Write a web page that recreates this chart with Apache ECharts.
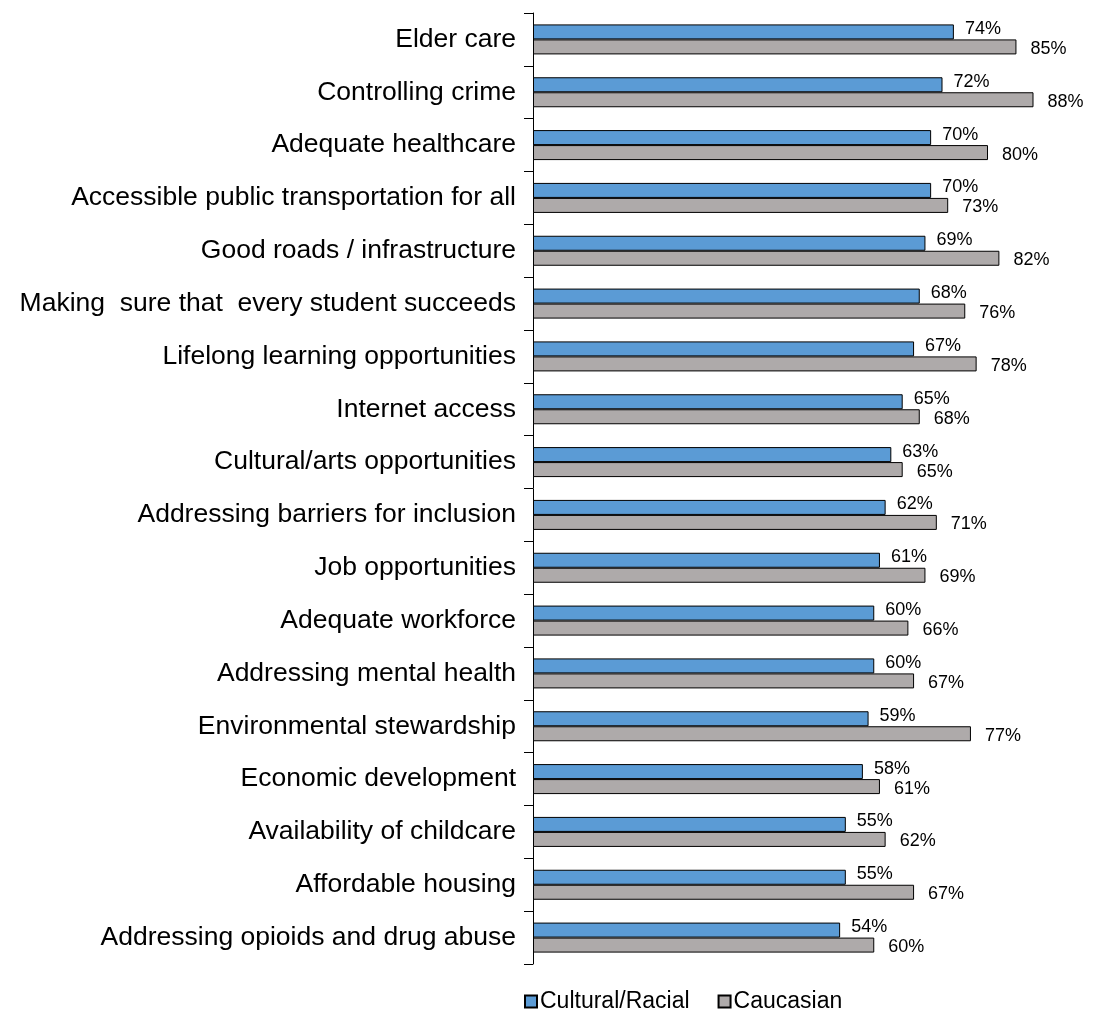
<!DOCTYPE html>
<html>
<head>
<meta charset="utf-8">
<script src="https://cdn.jsdelivr.net/npm/echarts@6/dist/echarts.min.js"></script>
<style>
  html, body { margin: 0; padding: 0; background: #fff; }
  #chart { width: 1095px; height: 1016px; }
</style>
</head>
<body>
<div id="chart"></div>
<script>
const categories = [
  'Elder care',
  'Controlling crime',
  'Adequate healthcare',
  'Accessible public transportation for all',
  'Good roads / infrastructure',
  'Making  sure that  every student succeeds',
  'Lifelong learning opportunities',
  'Internet access',
  'Cultural/arts opportunities',
  'Addressing barriers for inclusion',
  'Job opportunities',
  'Adequate workforce',
  'Addressing mental health',
  'Environmental stewardship',
  'Economic development',
  'Availability of childcare',
  'Affordable housing',
  'Addressing opioids and drug abuse'
]
const culturalRacial = [74, 72, 70, 70, 69, 68, 67, 65, 63, 62, 61, 60, 60, 59, 58, 55, 55, 54]
const caucasian = [85, 88, 80, 73, 82, 76, 78, 68, 65, 71, 69, 66, 67, 77, 61, 62, 67, 60]

let chart = echarts.init(document.getElementById('chart'))
chart.setOption({
  animation: false,
  textStyle: { fontFamily: 'Liberation Sans, Arial, sans-serif' },
  grid: { left: 533, top: 13, bottom: 52, right: 16 },
  legend: {
    data: ['Cultural/Racial', 'Caucasian'],
    top: 985,
    left: 519,
    itemWidth: 12,
    itemHeight: 12,
    itemGap: 28,
    icon: 'rect',
    textStyle: { color: '#000', fontSize: 23, padding: [0, 0, 0, -2] }
  },
  xAxis: {
    type: 'value',
    min: 0,
    max: 96,
    show: false
  },
  yAxis: {
    type: 'category',
    inverse: true,
    data: categories,
    axisLine: { lineStyle: { color: '#000', width: 1 } },
    axisTick: { show: true, length: 9, lineStyle: { color: '#000' } },
    axisLabel: { color: '#000', fontSize: 26.5, margin: 17, padding: [4, 0, 0, 0] }
  },
  series: [
    {
      name: 'Cultural/Racial',
      type: 'bar',
      data: culturalRacial,
      barWidth: 15,
      barGap: '0%',
      itemStyle: { color: '#5B9BD5', borderColor: '#000', borderWidth: 1 },
      label: {
        show: true,
        position: 'right',
        offset: [6, -3],
        formatter: '{c}%',
        color: '#000',
        fontSize: 18
      }
    },
    {
      name: 'Caucasian',
      type: 'bar',
      data: caucasian,
      barWidth: 15,
      itemStyle: { color: '#AEAAAA', borderColor: '#000', borderWidth: 1 },
      label: {
        show: true,
        position: 'right',
        offset: [9, 2],
        formatter: '{c}%',
        color: '#000',
        fontSize: 18
      }
    }
  ]
})
</script>
</body>
</html>
